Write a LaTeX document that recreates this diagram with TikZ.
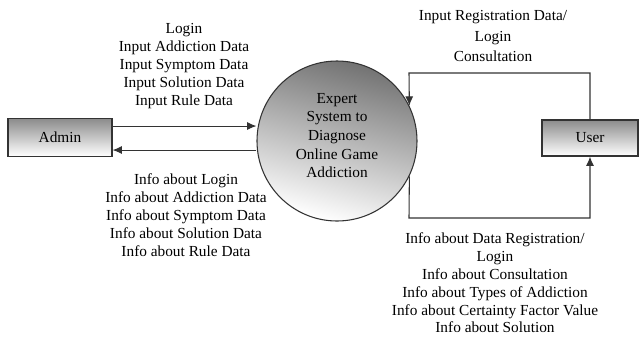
\documentclass[tikz,border=0pt]{standalone}
\usepackage{fontspec}
\setmainfont{Liberation Serif}
\usetikzlibrary{arrows.meta, positioning}

\begin{document}
\begin{tikzpicture}[x=0.75pt, y=-0.75pt,
		every node/.style={font=\rmfamily\fontsize{11.5}{13.4}\selectfont, text=black},
		entity/.style={draw=black!80, thick, top color=black!45, bottom color=white, minimum height=28pt},
		process/.style={circle, draw=black!80, thick, top color=black!55, bottom color=white, shading angle=-15, minimum size=120pt, inner sep=0pt},
		flow/.style={draw=black!80, thick, -{Latex[length=7pt, width=6pt]}},
		lbl/.style={align=center}]
		% fixed frame of the page
		\useasboundingbox (0,0) rectangle (640,337);

		% external entities and the process
		\node[entity, minimum width=78pt] (admin) at (60,137.5) {Admin};
		\node[process] (sys) at (337,141) {};
		\node[lbl, font=\rmfamily\fontsize{11.5}{14}\selectfont] (sys-name) at ([yshift=4pt]sys.center) {Expert\\System to\\Diagnose\\Online Game\\Addiction};
		\node[entity, minimum width=72pt, minimum height=27pt] (user) at (590,138) {User};

		% admin <-> system
		\draw[flow] ([yshift=8.6pt]admin.east) -- ([yshift=8.6pt]admin.east -| sys.west);
		\draw[flow] ([yshift=-9.4pt]admin.east -| sys.west) -- ([yshift=-9.4pt]admin.east);

		% user <-> system
		\coordinate (utop) at (409,73);
		\coordinate (ubot) at (409,218);
		\draw[flow] (user.north) |- (utop) -- (sys.26);
		\draw[flow] (sys.-26) -- (ubot) -| (user.south);

		% data flow labels
		\node[lbl] (admin-in) at (184,66) {Login\\Input Addiction Data\\Input Symptom Data\\Input Solution Data\\Input Rule Data};
		\node[lbl] (admin-out) at (186,215) {Info about Login\\Info about Addiction Data\\Info about Symptom Data\\Info about Solution Data\\Info about Rule Data};
		\node[lbl, font=\rmfamily\fontsize{11.5}{15.5}\selectfont] (user-in) at (493,36) {Input Registration Data/\\Login\\Consultation};
		\node[lbl] (user-out) at (495,283) {Info about Data Registration/\\Login\\Info about Consultation\\Info about Types of Addiction\\Info about Certainty Factor Value\\Info about Solution};
	\end{tikzpicture}
\end{document}
